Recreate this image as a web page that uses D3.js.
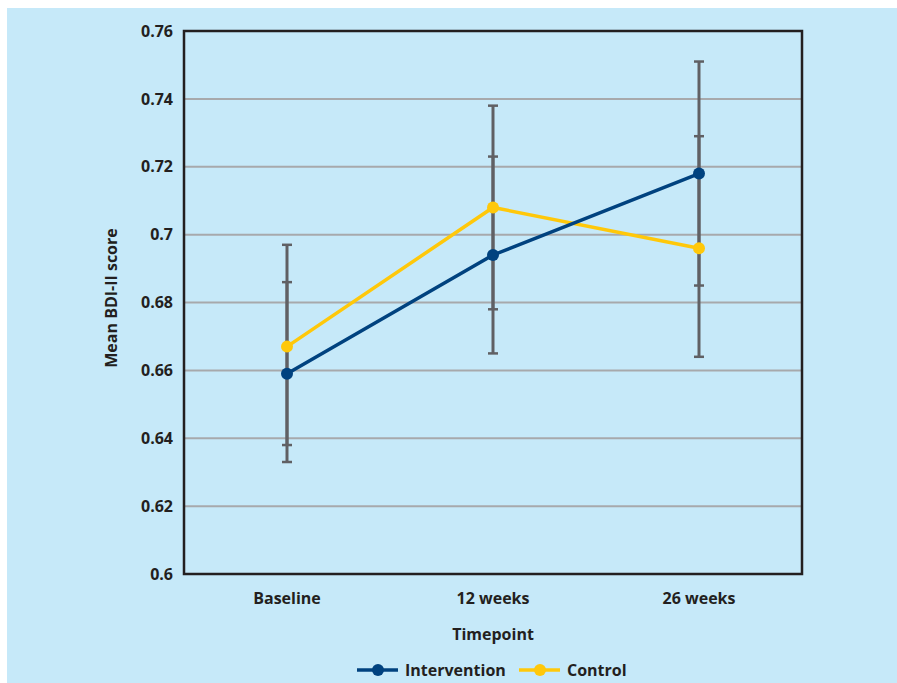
<!DOCTYPE html>
<html>
<head>
<meta charset="utf-8">
<script src="https://cdn.jsdelivr.net/npm/d3@7"></script>
<style>
  html, body { margin: 0; padding: 0; background: #ffffff; }
  svg { display: block; }
  text { font-family: "Open Sans", "Noto Sans", sans-serif; font-weight: 700; fill: #231f20; }
</style>
</head>
<body>
<svg id="chart" width="897" height="683"></svg>
<script>
const categories = ["Baseline", "12 weeks", "26 weeks"];
const yTicks = [0.6, 0.62, 0.64, 0.66, 0.68, 0.7, 0.72, 0.74, 0.76];
const yTickLabels = ["0.6", "0.62", "0.64", "0.66", "0.68", "0.7", "0.72", "0.74", "0.76"];
const seriesNames = ["Intervention", "Control"];
const interventionMean = [0.659, 0.694, 0.718];
const interventionLow = [0.633, 0.665, 0.685];
const interventionHigh = [0.686, 0.723, 0.751];
const controlMean = [0.667, 0.708, 0.696];
const controlLow = [0.638, 0.678, 0.664];
const controlHigh = [0.697, 0.738, 0.729];

const colors = { Intervention: "#00427f", Control: "#ffc80a" };
const FS = 16;

const svg = d3.select("#chart");
svg.append("rect").attr("x", 7).attr("y", 8).attr("width", 890).attr("height", 675).attr("fill", "#c6e9f9");

const margin = { left: 184, top: 31, right: 802, bottom: 574 };
const x = d3.scaleBand().domain(categories).range([margin.left, margin.right]).padding(0);
const y = d3.scaleLinear().domain([0.6, 0.76]).range([margin.bottom, margin.top]);
const cx = c => x(c) + x.bandwidth() / 2;

// gridlines
svg.append("g").selectAll("line").data(yTicks.filter(t => t > 0.6 && t < 0.76)).join("line")
  .attr("x1", margin.left).attr("x2", margin.right)
  .attr("y1", d => y(d)).attr("y2", d => y(d))
  .attr("stroke", "#a7a9ac").attr("stroke-width", 2);

// y axis labels
const yAxis = d3.axisLeft(y).tickValues(yTicks).tickFormat((d, i) => yTickLabels[i]).tickSize(0).tickPadding(11);
const gy = svg.append("g").attr("transform", `translate(${margin.left},0)`).call(yAxis);
gy.select(".domain").remove();
gy.selectAll("text").attr("font-size", FS).attr("fill", "#231f20")
  .style("font-family", '"Open Sans", sans-serif').style("font-weight", 700);

// x axis labels
const xAxis = d3.axisBottom(x).tickSize(0).tickPadding(19);
const gx = svg.append("g").attr("transform", `translate(0,${margin.bottom})`).call(xAxis);
gx.select(".domain").remove();
gx.selectAll("text").attr("font-size", FS).attr("fill", "#231f20")
  .style("font-family", '"Open Sans", sans-serif').style("font-weight", 700);

// frame
svg.append("rect").attr("x", margin.left).attr("y", margin.top)
  .attr("width", margin.right - margin.left).attr("height", margin.bottom - margin.top)
  .attr("fill", "none").attr("stroke", "#231f20").attr("stroke-width", 2.5);

// axis titles
svg.append("text").attr("x", 493).attr("y", 639.5).attr("text-anchor", "middle").attr("font-size", FS).text("Timepoint");
svg.append("text").attr("transform", "translate(117,298) rotate(-90)").attr("text-anchor", "middle").attr("font-size", FS).text("Mean BDI-II score");

// error bars
const errData = [];
categories.forEach((c, i) => {
  errData.push({ c, lo: interventionLow[i], hi: interventionHigh[i] });
  errData.push({ c, lo: controlLow[i], hi: controlHigh[i] });
});
const eg = svg.append("g");
eg.selectAll("line.v").data(errData).join("line").attr("class", "v")
  .attr("x1", d => cx(d.c)).attr("x2", d => cx(d.c))
  .attr("y1", d => y(d.lo)).attr("y2", d => y(d.hi))
  .attr("stroke", "#606064").attr("stroke-width", 3);
const caps = [];
errData.forEach(d => { caps.push({ c: d.c, v: d.lo }); caps.push({ c: d.c, v: d.hi }); });
eg.selectAll("line.cap").data(caps).join("line").attr("class", "cap")
  .attr("x1", d => cx(d.c) - 5).attr("x2", d => cx(d.c) + 5)
  .attr("y1", d => y(d.v)).attr("y2", d => y(d.v))
  .attr("stroke", "#606064").attr("stroke-width", 2.5);

// lines
const series = [
  { name: "Intervention", values: interventionMean },
  { name: "Control", values: controlMean }
];
const line = d3.line().x((d, i) => cx(categories[i])).y(d => y(d));
[series[1], series[0]].forEach(s => {
  svg.append("path").attr("d", line(s.values)).attr("fill", "none")
    .attr("stroke", colors[s.name]).attr("stroke-width", 3.5);
  svg.append("g").selectAll("circle").data(s.values).join("circle")
    .attr("cx", (d, i) => cx(categories[i])).attr("cy", d => y(d)).attr("r", 6)
    .attr("fill", colors[s.name]);
});

// legend
const legend = [
  { name: "Intervention", x0: 357 },
  { name: "Control", x0: 519 }
];
legend.forEach(l => {
  svg.append("line").attr("x1", l.x0).attr("x2", l.x0 + 41).attr("y1", 670).attr("y2", 670)
    .attr("stroke", colors[l.name]).attr("stroke-width", 3.5);
  svg.append("circle").attr("cx", l.x0 + 21).attr("cy", 670).attr("r", 6).attr("fill", colors[l.name]);
  svg.append("text").attr("x", l.x0 + 48).attr("y", 676).attr("font-size", FS).text(l.name);
});
</script>
</body>
</html>
